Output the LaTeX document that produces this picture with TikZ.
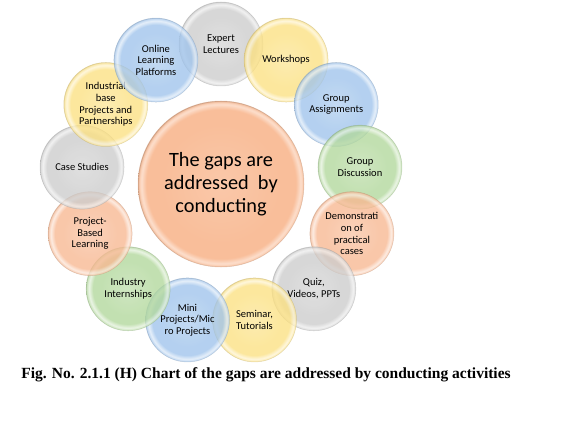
\documentclass[tikz,border=0pt]{standalone}
\usepackage{fontspec}
\setmainfont{Liberation Serif}
\newfontfamily\calfont{Carlito}
\usetikzlibrary{calc}
\definecolor{cg}{RGB}{205,205,205}
\definecolor{cy}{RGB}{252,225,130}
\definecolor{cb}{RGB}{160,196,236}
\definecolor{cr}{RGB}{178,216,156}
\definecolor{co}{RGB}{248,184,146}
\definecolor{cc}{RGB}{249,190,154}
\pgfdeclareradialshading{shcg}{\pgfpoint{0bp}{0bp}}{color(0bp)=(cg!80!white); color(16bp)=(cg); color(21bp)=(cg); color(23.3bp)=(cg!35!white); color(24.5bp)=(cg!75!white); color(25bp)=(cg!90!black); color(50bp)=(cg!90!black)}
\pgfdeclareradialshading{shcy}{\pgfpoint{0bp}{0bp}}{color(0bp)=(cy!80!white); color(16bp)=(cy); color(21bp)=(cy); color(23.3bp)=(cy!35!white); color(24.5bp)=(cy!75!white); color(25bp)=(cy!90!black); color(50bp)=(cy!90!black)}
\pgfdeclareradialshading{shcb}{\pgfpoint{0bp}{0bp}}{color(0bp)=(cb!80!white); color(16bp)=(cb); color(21bp)=(cb); color(23.3bp)=(cb!35!white); color(24.5bp)=(cb!75!white); color(25bp)=(cb!90!black); color(50bp)=(cb!90!black)}
\pgfdeclareradialshading{shcr}{\pgfpoint{0bp}{0bp}}{color(0bp)=(cr!80!white); color(16bp)=(cr); color(21bp)=(cr); color(23.3bp)=(cr!35!white); color(24.5bp)=(cr!75!white); color(25bp)=(cr!90!black); color(50bp)=(cr!90!black)}
\pgfdeclareradialshading{shco}{\pgfpoint{0bp}{0bp}}{color(0bp)=(co!80!white); color(16bp)=(co); color(21bp)=(co); color(23.3bp)=(co!35!white); color(24.5bp)=(co!75!white); color(25bp)=(co!90!black); color(50bp)=(co!90!black)}
\pgfdeclareradialshading{shcc}{\pgfpoint{0bp}{0bp}}{color(0bp)=(cc!85!white); color(18bp)=(cc); color(22.5bp)=(cc); color(24bp)=(cc!50!white); color(24.7bp)=(cc!80!white); color(25bp)=(cc!85!black); color(50bp)=(cc!85!black)}
\tikzset{
  bubble/.style={circle, minimum size=84pt, inner sep=0pt, shade, shading=sh#1, fill opacity=0.78, text opacity=1,
    draw=#1!75!black, draw opacity=0.35, line width=0.5pt, align=center,
    font=\calfont\fontsize{10.5}{11.6}\selectfont},
  hub/.style={circle, minimum size=166pt, inner sep=0pt, shade, shading=shcc, text opacity=1,
    draw=cc!80!black, draw opacity=0.4, line width=0.5pt, align=center,
    font=\calfont\fontsize{20.3}{22.8}\selectfont},
  captext/.style={font=\fontsize{15.5}{18}\selectfont\bfseries, inner sep=0pt}
}
\begin{document}
\begin{tikzpicture}[x=1pt,y=1pt]
\useasboundingbox (0,0) rectangle (577,421);
\fill[white] (0,0) rectangle (577,421);
\coordinate (c) at (221,237);
\node[hub] (hubnode) at (c) {The gaps are\\addressed\ \ by\\conducting};
\foreach \k/\col/\txt in {
  0/cg/{Expert\\Lectures},
  1/cy/{Workshops},
  2/cb/{Group\\Assignments},
  3/cr/{Group\\Discussion},
  4/co/{Demonstrati\\on of\\practical\\cases},
  5/cg/{Quiz,\\Videos, PPTs},
  6/cy/{Seminar,\\Tutorials},
  7/cb/{Mini\\Projects/Mic\\ro Projects},
  8/cr/{Industry\\Internships},
  9/co/{Project-\\Based\\Learning},
  10/cg/{Case Studies},
  11/cy/{Industrial\\base\\Projects and\\Partnerships},
  12/cb/{Online\\Learning\\Platforms}}{
  \node[bubble=\col] (b\k) at ($(c)+({90-\k*360/13}:140)$) {\txt};
}
\node[captext] (cap) at (266,46) {Fig. No. 2.1.1 (H) Chart of the gaps are addressed by conducting activities};
\end{tikzpicture}
\end{document}
